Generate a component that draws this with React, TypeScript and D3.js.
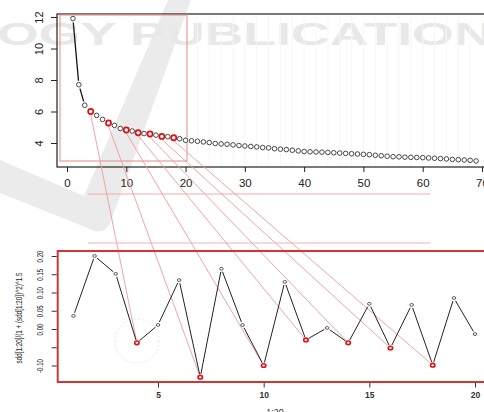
import React, { useEffect, useRef } from 'react';
import * as d3 from 'd3';

// curvature values, index 1..69
const topValues = [
  11.9, 7.7, 6.4, 6.0, 5.75, 5.5, 5.27, 5.12, 4.92, 4.83,
  4.76, 4.65, 4.6, 4.57, 4.5, 4.42, 4.4, 4.33, 4.27, 4.17,
  4.14, 4.11, 4.07, 4.03, 3.97, 3.94, 3.92, 3.88, 3.84, 3.81,
  3.78, 3.75, 3.71, 3.69, 3.64, 3.61, 3.58, 3.54, 3.5, 3.46,
  3.44, 3.43, 3.42, 3.4, 3.38, 3.36, 3.34, 3.32, 3.3, 3.28,
  3.26, 3.22, 3.19, 3.16, 3.13, 3.12, 3.1, 3.09, 3.08, 3.07,
  3.05, 3.03, 3.01, 2.99, 2.96, 2.94, 2.92, 2.9, 2.86,
];

// sdd[1:20]/(1+sdd^2)^1.5
const bottomValues = [
  0.036, 0.2, 0.151, -0.038, 0.011, 0.134, -0.132, 0.165, 0.011, -0.1,
  0.129, -0.03, 0.003, -0.038, 0.069, -0.052, 0.066, -0.099, 0.085, -0.014,
];

const highlighted = [4, 7, 10, 12, 14, 16, 18];

const topXTicks = [0, 10, 20, 30, 40, 50, 60, 70];
const topYTicks = [4, 6, 8, 10, 12];
const bottomXTicks = [5, 10, 15, 20];
const bottomYTicks = [-0.1, -0.05, 0, 0.05, 0.1, 0.15, 0.2];
const bottomYLabels = ['-0.10', '', '0.00', '0.05', '0.10', '0.15', '0.20'];

const W = 484;
const H = 412;

function gapped(pts: [number, number][], gap: number) {
  const segs: number[][] = [];
  for (let i = 0; i < pts.length - 1; i++) {
    const [x1, y1] = pts[i];
    const [x2, y2] = pts[i + 1];
    const len = Math.hypot(x2 - x1, y2 - y1);
    if (len <= gap * 2 + 1) continue;
    const ux = (x2 - x1) / len, uy = (y2 - y1) / len;
    segs.push([x1 + ux * gap, y1 + uy * gap, x2 - ux * gap, y2 - uy * gap]);
  }
  return segs;
}

function App() {
  const ref = useRef<SVGSVGElement>(null);

  useEffect(() => {
    const svg = d3.select(ref.current);
    svg.selectAll('*').remove();

    const font = '"Liberation Sans", Arial, sans-serif';

    // scales
    const xTop = d3.scaleLinear().domain([0, 70]).range([67, 482]);
    const yTop = d3.scaleLinear().domain([4, 12]).range([143, 17]);
    const xBot = d3.scaleLinear().domain([5, 20]).range([158, 475]);
    const yBot = d3.scaleLinear().domain([0, 0.2]).range([329, 256]);

    // watermark
    const wm = svg.append('g');
    wm.append('path')
      .attr('d', 'M168,0 L191,0 L110,224 Q102,236 90,229 L0,193 L0,160 L84,196 Z')
      .attr('fill', '#ebebeb');
    wm.append('text')
      .attr('transform', 'translate(-3,45) scale(1.73,1)')
      .attr('font-family', font).attr('font-weight', 'bold').attr('font-size', 31)
      .attr('fill', '#e8e8e8')
      .text('OGY PUBLICATIONS');

    // faint vertical grid in top panel
    svg.append('g').selectAll('line')
      .data(d3.range(22, 70, 2))
      .enter().append('line')
      .attr('x1', d => xTop(d)).attr('x2', d => xTop(d))
      .attr('y1', 15).attr('y2', 166)
      .attr('stroke', '#f7f7f7');

    // ---- top panel ----
    svg.append('rect')
      .attr('x', 57).attr('y', 14).attr('width', 441).attr('height', 153)
      .attr('fill', 'none').attr('stroke', '#222').attr('stroke-width', 1.2);

    const yAxisTop = svg.append('g')
      .attr('transform', 'translate(57,0)')
      .call(d3.axisLeft(yTop).tickValues(topYTicks).tickSize(6).tickFormat(d3.format('d')));
    yAxisTop.select('.domain').remove();
    yAxisTop.selectAll('line').attr('stroke', '#222');
    yAxisTop.selectAll('text')
      .attr('x', 0).attr('dy', 0)
      .attr('transform', 'translate(-14.5,0) rotate(-90)')
      .attr('text-anchor', 'middle')
      .attr('font-family', font).attr('font-size', 11).attr('fill', '#222');

    const xAxisTop = svg.append('g')
      .attr('transform', 'translate(0,167)')
      .call(d3.axisBottom(xTop).tickValues(topXTicks).tickSize(5).tickFormat(d3.format('d')));
    xAxisTop.select('.domain').remove();
    xAxisTop.selectAll('line').attr('stroke', '#222');
    xAxisTop.selectAll('text')
      .attr('y', 12)
      .attr('font-family', font).attr('font-size', 11.5).attr('fill', '#222');

    // zoom rectangle over first 20 points
    svg.append('rect')
      .attr('x', 60).attr('y', 15).attr('width', 127).attr('height', 146)
      .attr('fill', 'none').attr('stroke', '#e58b8b').attr('stroke-width', 1);

    // separator lines
    svg.append('line').attr('x1', 88).attr('x2', 430).attr('y1', 194).attr('y2', 194)
      .attr('stroke', '#f2aaaa').attr('stroke-width', 1);
    svg.append('line').attr('x1', 88).attr('x2', 430).attr('y1', 243).attr('y2', 243)
      .attr('stroke', '#eab5b5').attr('stroke-width', 1);

    const topPts: [number, number][] = topValues.map((v, i) => [xTop(i + 1), yTop(v)]);
    const botPts: [number, number][] = bottomValues.map((v, i) => [xBot(i + 1), yBot(v)]);

    // connectors
    svg.append('g').selectAll('line')
      .data(highlighted)
      .enter().append('line')
      .attr('x1', d => topPts[d - 1][0]).attr('y1', d => topPts[d - 1][1] + 3)
      .attr('x2', d => botPts[d - 1][0]).attr('y2', d => botPts[d - 1][1])
      .attr('stroke', '#f09a9a').attr('stroke-width', 0.9);

    svg.append('g').selectAll('line')
      .data(gapped(topPts, 4))
      .enter().append('line')
      .attr('x1', d => d[0]).attr('y1', d => d[1]).attr('x2', d => d[2]).attr('y2', d => d[3])
      .attr('stroke', '#111').attr('stroke-width', 1.3);

    svg.append('g').selectAll('circle')
      .data(topPts)
      .enter().append('circle')
      .attr('cx', d => d[0]).attr('cy', d => d[1])
      .attr('r', (d, i) => highlighted.includes(i + 1) ? 2.6 : 2.3)
      .attr('fill', 'white')
      .attr('stroke', (d, i) => highlighted.includes(i + 1) ? '#d11' : '#333')
      .attr('stroke-width', (d, i) => highlighted.includes(i + 1) ? 1.7 : 0.9);

    // ---- bottom panel ----
    svg.append('circle')
      .attr('cx', 137).attr('cy', 341).attr('r', 22)
      .attr('fill', 'none').attr('stroke', '#f6d6d6').attr('stroke-width', 0.8)
      .attr('stroke-dasharray', '2,2');

    svg.append('rect')
      .attr('x', 57.7).attr('y', 251).attr('width', 443).attr('height', 131)
      .attr('fill', 'none').attr('stroke', '#d43434').attr('stroke-width', 2);

    const yAxisBot = svg.append('g')
      .attr('transform', 'translate(56.7,0)')
      .call(d3.axisLeft(yBot).tickValues(bottomYTicks).tickSize(5)
        .tickFormat((d, i) => bottomYLabels[i]));
    yAxisBot.select('.domain').remove();
    yAxisBot.selectAll('line').attr('stroke', '#333');
    yAxisBot.selectAll('text')
      .attr('x', 0).attr('dy', 0)
      .attr('transform', 'translate(-13.5,0) rotate(-90) scale(0.72,1)')
      .attr('text-anchor', 'middle')
      .attr('font-family', font).attr('font-size', 8.5).attr('fill', '#222');

    const xAxisBot = svg.append('g')
      .attr('transform', 'translate(0,383)')
      .call(d3.axisBottom(xBot).tickValues(bottomXTicks).tickSize(4.5).tickFormat(d3.format('d')));
    xAxisBot.select('.domain').remove();
    xAxisBot.selectAll('line').attr('stroke', '#333');
    xAxisBot.selectAll('text')
      .attr('y', 9)
      .attr('font-family', font).attr('font-size', 8.5).attr('font-weight', 'bold').attr('fill', '#333');

    svg.append('text')
      .attr('x', 275).attr('y', 415)
      .attr('text-anchor', 'middle')
      .attr('font-family', font).attr('font-size', 9).attr('fill', '#333')
      .text('1:20');

    svg.append('text')
      .attr('transform', 'translate(22,318) rotate(-90)')
      .attr('text-anchor', 'middle')
      .attr('font-family', font).attr('font-size', 9).attr('fill', '#222')
      .attr('textLength', 91).attr('lengthAdjust', 'spacingAndGlyphs')
      .text('sdd[1:20]/(1 + (sdd[1:20])^2)^1.5');

    svg.append('g').selectAll('line')
      .data(gapped(botPts, 3.2))
      .enter().append('line')
      .attr('x1', d => d[0]).attr('y1', d => d[1]).attr('x2', d => d[2]).attr('y2', d => d[3])
      .attr('stroke', '#222').attr('stroke-width', 1);

    svg.append('g').selectAll('ellipse')
      .data(botPts)
      .enter().append('ellipse')
      .attr('cx', d => d[0]).attr('cy', d => d[1])
      .attr('rx', (d, i) => highlighted.includes(i + 1) ? 2.2 : 1.8)
      .attr('ry', (d, i) => highlighted.includes(i + 1) ? 1.8 : 1.4)
      .attr('fill', 'white')
      .attr('stroke', (d, i) => highlighted.includes(i + 1) ? '#d11' : '#333')
      .attr('stroke-width', (d, i) => highlighted.includes(i + 1) ? 1.6 : 0.8);
  }, []);

  return (
    <svg
      ref={ref}
      width={W}
      height={H}
      style={{ position: 'absolute', left: 0, top: 0, display: 'block', background: 'white' }}
    />
  );
}

export default App;
